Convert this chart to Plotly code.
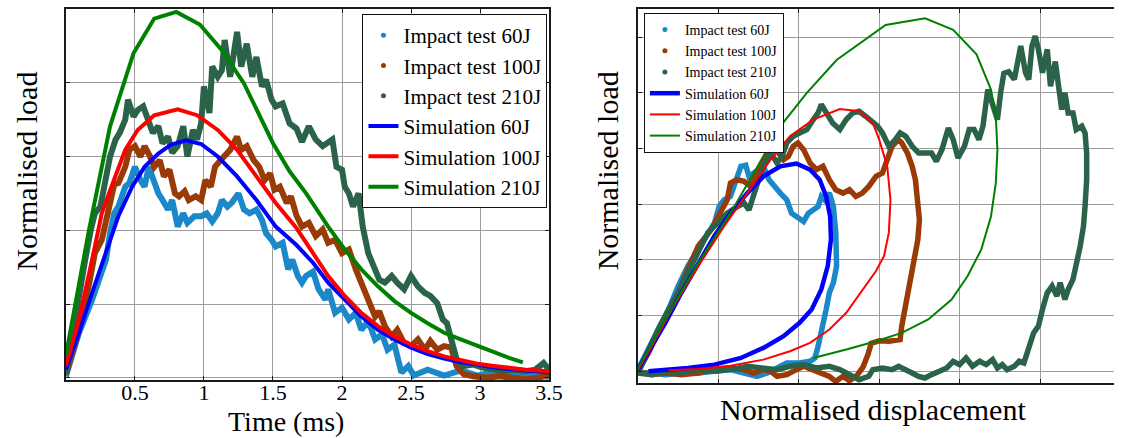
import plotly.graph_objects as go

FONT = "Liberation Serif, Times New Roman, serif"

# ---------------- Left panel: Normalised load vs Time (ms) ----------------
time_ticks = [0.5, 1, 1.5, 2, 2.5, 3, 3.5]
time_tick_labels = ["0.5", "1", "1.5", "2", "2.5", "3", "3.5"]
load_ticks_left = [0, 1, 2, 3, 4, 5]

test60_time = [(0, 0.02), (0.095, 0.61), (0.19, 1.06), (0.24, 1.33), (0.29, 1.60), (0.32, 1.96), (0.35, 2.23),
               (0.38, 2.32), (0.43, 2.59), (0.46, 2.64), (0.50, 2.86), (0.54, 2.68), (0.57, 2.59), (0.60, 2.86),
               (0.63, 2.68), (0.67, 2.50), (0.70, 2.41), (0.74, 2.28), (0.77, 2.41), (0.81, 2.05), (0.85, 2.23),
               (0.88, 2.10), (0.93, 2.19), (0.98, 2.19), (1.02, 2.23), (1.06, 2.12), (1.10, 2.23), (1.13, 2.41),
               (1.17, 2.32), (1.20, 2.37), (1.25, 2.50), (1.29, 2.28), (1.33, 2.23), (1.38, 2.28), (1.42, 2.14),
               (1.45, 1.96), (1.49, 1.87), (1.52, 1.78), (1.57, 1.83), (1.61, 1.47), (1.64, 1.60), (1.68, 1.38),
               (1.71, 1.29), (1.74, 1.38), (1.79, 1.44), (1.83, 1.20), (1.88, 1.06), (1.90, 1.20), (1.95, 0.88),
               (2.00, 0.95), (2.05, 0.79), (2.10, 0.88), (2.14, 0.65), (2.19, 0.77), (2.24, 0.52), (2.29, 0.59),
               (2.33, 0.38), (2.38, 0.45), (2.43, 0.07), (2.48, 0.16), (2.52, 0.03), (2.62, 0.11), (2.74, 0.03),
               (2.86, 0.10), (2.98, 0.03), (3.10, 0.08), (3.21, 0.02), (3.33, 0.06), (3.50, 0.01)]

test100_time = [(0, 0.05), (0.095, 0.65), (0.17, 1.29), (0.21, 1.69), (0.26, 1.87), (0.31, 2.32), (0.35, 2.62),
                (0.38, 2.64), (0.43, 2.86), (0.46, 3.09), (0.50, 3.14), (0.54, 3.00), (0.57, 3.14), (0.61, 3.00),
                (0.64, 2.86), (0.68, 2.95), (0.71, 2.73), (0.75, 2.82), (0.79, 2.50), (0.82, 2.46), (0.86, 2.53),
                (0.89, 2.41), (0.94, 2.46), (0.98, 2.41), (1.01, 2.68), (1.05, 2.59), (1.08, 2.86), (1.12, 2.95),
                (1.15, 3.00), (1.19, 3.09), (1.24, 3.27), (1.27, 3.09), (1.31, 3.14), (1.36, 2.95), (1.40, 2.86),
                (1.44, 2.68), (1.48, 2.77), (1.51, 2.55), (1.55, 2.59), (1.60, 2.37), (1.63, 2.46), (1.67, 2.20),
                (1.71, 2.05), (1.76, 2.10), (1.81, 1.92), (1.86, 2.01), (1.90, 1.83), (1.95, 1.87), (2.00, 1.69),
                (2.05, 1.74), (2.10, 1.47), (2.14, 1.29), (2.17, 1.15), (2.20, 0.97), (2.24, 0.83), (2.27, 0.90),
                (2.31, 0.70), (2.36, 0.56), (2.40, 0.65), (2.45, 0.47), (2.50, 0.43), (2.55, 0.52), (2.60, 0.38),
                (2.64, 0.50), (2.69, 0.38), (2.74, 0.43), (2.79, 0.41), (2.83, 0.16), (2.88, 0.05), (2.95, 0.02),
                (3.05, 0.00), (3.14, 0.02), (3.24, 0.00), (3.33, -0.02), (3.43, 0.00), (3.50, 0.05)]

test210_time = [(0, 0.05), (0.07, 0.88), (0.14, 1.60), (0.18, 2.00), (0.21, 2.23), (0.25, 2.32), (0.29, 2.73),
                (0.32, 3.00), (0.36, 3.23), (0.39, 3.32), (0.43, 3.50), (0.45, 3.77), (0.49, 3.54), (0.52, 3.63),
                (0.56, 3.68), (0.60, 3.50), (0.63, 3.32), (0.67, 3.41), (0.70, 3.18), (0.74, 3.27), (0.77, 3.05),
                (0.81, 3.14), (0.85, 3.41), (0.88, 3.00), (0.92, 3.36), (0.95, 3.23), (0.98, 3.45), (1.00, 3.95),
                (1.04, 3.59), (1.06, 4.22), (1.10, 4.08), (1.13, 4.17), (1.15, 4.58), (1.19, 4.08), (1.24, 4.69),
                (1.27, 4.22), (1.31, 4.53), (1.35, 4.08), (1.38, 4.35), (1.42, 3.95), (1.45, 4.04), (1.49, 3.77),
                (1.52, 3.68), (1.57, 3.72), (1.62, 3.45), (1.67, 3.38), (1.71, 3.20), (1.76, 3.41), (1.81, 3.23),
                (1.86, 3.14), (1.90, 3.18), (1.93, 3.23), (1.96, 2.86), (2.00, 2.82), (2.02, 2.59), (2.05, 2.50),
                (2.08, 2.32), (2.12, 2.50), (2.15, 2.05), (2.19, 1.69), (2.23, 1.51), (2.27, 1.33), (2.31, 1.29),
                (2.36, 1.38), (2.40, 1.29), (2.45, 1.20), (2.50, 1.38), (2.55, 1.24), (2.60, 1.15), (2.64, 1.11),
                (2.69, 1.01), (2.73, 0.79), (2.76, 0.74), (2.80, 0.43), (2.83, 0.25), (2.88, 0.16), (2.95, 0.18),
                (3.02, 0.14), (3.10, 0.11), (3.17, 0.09), (3.24, 0.11), (3.33, 0.09), (3.40, 0.11), (3.46, 0.20),
                (3.50, 0.11)]

sim60_time = [(0, 0.11), (0.095, 0.61), (0.19, 1.15), (0.29, 1.69), (0.38, 2.19), (0.48, 2.59), (0.57, 2.86),
              (0.67, 3.04), (0.76, 3.16), (0.87, 3.22), (0.98, 3.17), (1.10, 3.00), (1.24, 2.73), (1.38, 2.41),
              (1.52, 2.05), (1.67, 1.80), (1.79, 1.56), (1.90, 1.29), (2.02, 1.06), (2.14, 0.83), (2.26, 0.65),
              (2.38, 0.52), (2.50, 0.41), (2.62, 0.32), (2.74, 0.26), (2.86, 0.21), (2.98, 0.18), (3.10, 0.14),
              (3.21, 0.12), (3.33, 0.10), (3.50, 0.07)]

sim100_time = [(0, 0.16), (0.095, 0.79), (0.19, 1.60), (0.26, 2.23), (0.33, 2.59), (0.43, 3.09), (0.52, 3.36),
               (0.64, 3.56), (0.81, 3.64), (0.95, 3.56), (1.10, 3.36), (1.24, 3.09), (1.38, 2.73), (1.52, 2.37),
               (1.67, 2.03), (1.79, 1.69), (1.90, 1.38), (2.02, 1.11), (2.14, 0.88), (2.26, 0.70), (2.38, 0.56),
               (2.50, 0.45), (2.62, 0.36), (2.74, 0.29), (2.86, 0.24), (2.98, 0.19), (3.10, 0.16), (3.21, 0.13),
               (3.33, 0.11), (3.50, 0.09)]

sim210_time = [(0, 0.30), (0.167, 2.00), (0.32, 3.41), (0.49, 4.40), (0.64, 4.87), (0.80, 4.96), (0.97, 4.79),
               (1.13, 4.44), (1.29, 3.99), (1.38, 3.63), (1.50, 3.18), (1.62, 2.80), (1.74, 2.50), (1.90, 2.05),
               (2.02, 1.74), (2.14, 1.47), (2.26, 1.24), (2.38, 1.04), (2.50, 0.88), (2.62, 0.74), (2.74, 0.61),
               (2.86, 0.52), (2.98, 0.43), (3.10, 0.34), (3.21, 0.27), (3.31, 0.21)]

# ---------------- Right panel: Normalised load vs Normalised displacement ----------------
disp_ticks = [0, 1, 2, 3, 4, 5]
load_ticks_right = [0, 1, 2, 3, 4, 5, 6]

test60_disp = [(0, 0.03), (0.13, 0.39), (0.25, 0.75), (0.38, 1.11), (0.50, 1.53), (0.62, 1.89), (0.75, 2.19),
               (0.87, 2.49), (0.95, 2.66), (1.01, 2.96), (1.07, 3.08), (1.15, 3.14), (1.22, 3.44), (1.28, 3.68),
               (1.34, 3.70), (1.38, 3.50), (1.44, 3.56), (1.50, 3.62), (1.56, 3.68), (1.63, 3.44), (1.69, 3.32),
               (1.77, 3.20), (1.85, 3.08), (1.91, 2.84), (1.97, 2.78), (2.06, 2.69), (2.12, 2.84), (2.18, 2.90),
               (2.24, 2.96), (2.28, 3.14), (2.32, 3.08), (2.38, 3.20), (2.43, 2.96), (2.46, 2.49), (2.47, 1.89),
               (2.43, 1.59), (2.38, 1.41), (2.34, 1.11), (2.30, 0.81), (2.24, 0.45), (2.20, 0.24), (2.14, 0.18),
               (2.01, 0.15), (1.85, 0.15), (1.73, 0.06), (1.61, -0.03), (1.48, -0.09), (1.32, -0.03), (1.15, 0.03),
               (0.95, 0.00), (0.75, -0.03), (0.54, -0.03), (0.34, -0.06), (0.17, -0.03), (0, -0.02)]

test100_disp = [(0, 0.00), (0.13, 0.33), (0.25, 0.69), (0.38, 1.05), (0.50, 1.41), (0.62, 1.83), (0.75, 2.25),
                (0.91, 2.54), (1.03, 2.84), (1.11, 3.08), (1.15, 3.38), (1.23, 3.44), (1.32, 3.41), (1.40, 3.32),
                (1.48, 3.56), (1.56, 3.80), (1.63, 3.98), (1.69, 4.04), (1.75, 3.92), (1.81, 3.80), (1.87, 3.86),
                (1.93, 4.04), (1.99, 4.10), (2.06, 3.98), (2.14, 3.74), (2.22, 3.62), (2.30, 3.68), (2.38, 3.44),
                (2.46, 3.26), (2.55, 3.20), (2.63, 3.26), (2.71, 3.14), (2.79, 3.20), (2.87, 3.32), (2.96, 3.50),
                (3.04, 3.56), (3.10, 3.80), (3.16, 4.04), (3.24, 4.16), (3.28, 4.10), (3.35, 3.92), (3.41, 3.68),
                (3.45, 3.44), (3.48, 3.08), (3.50, 2.72), (3.48, 2.36), (3.44, 2.06), (3.40, 1.71), (3.36, 1.35),
                (3.32, 1.05), (3.28, 0.81), (3.26, 0.57), (3.12, 0.54), (3.00, 0.55), (2.90, 0.50), (2.86, 0.30),
                (2.80, 0.08), (2.72, -0.08), (2.63, -0.17), (2.55, -0.09), (2.46, -0.18), (2.38, -0.09),
                (2.26, -0.03), (2.14, 0.03), (2.06, 0.09), (1.97, 0.03), (1.85, -0.06), (1.73, -0.09), (1.65, 0.00),
                (1.56, 0.03), (1.44, -0.03), (1.32, 0.03), (1.15, 0.06), (0.95, 0.03), (0.75, -0.03), (0.54, -0.06),
                (0.34, -0.03), (0.17, -0.06), (0, 0.00)]

test210_disp = [(0, -0.03), (0.13, 0.39), (0.25, 0.75), (0.38, 1.11), (0.50, 1.41), (0.62, 1.77), (0.75, 2.13),
                (0.87, 2.49), (0.99, 2.66), (1.11, 2.84), (1.24, 2.96), (1.32, 3.02), (1.38, 2.90), (1.44, 3.20),
                (1.50, 3.44), (1.56, 3.68), (1.65, 3.92), (1.73, 3.74), (1.79, 3.86), (1.85, 4.10), (1.93, 4.22),
                (2.01, 4.28), (2.10, 4.34), (2.18, 4.52), (2.24, 4.64), (2.28, 4.79), (2.34, 4.64), (2.42, 4.46),
                (2.51, 4.34), (2.59, 4.52), (2.67, 4.64), (2.75, 4.67), (2.83, 4.58), (2.91, 4.50), (2.98, 4.40),
                (3.04, 4.28), (3.12, 4.04), (3.20, 4.16), (3.26, 4.28), (3.33, 4.22), (3.41, 4.04), (3.49, 3.92),
                (3.57, 3.92), (3.65, 3.92), (3.71, 3.77), (3.78, 3.98), (3.86, 4.37), (3.92, 4.16), (3.98, 3.83),
                (4.06, 4.04), (4.12, 4.34), (4.18, 4.34), (4.24, 4.16), (4.29, 4.40), (4.35, 5.06), (4.41, 4.82),
                (4.47, 4.52), (4.51, 5.00), (4.55, 5.35), (4.61, 5.38), (4.68, 5.24), (4.72, 5.54), (4.76, 5.84),
                (4.82, 5.36), (4.86, 5.24), (4.90, 5.84), (4.94, 6.02), (4.98, 5.78), (5.03, 5.36), (5.09, 5.78),
                (5.13, 5.12), (5.19, 5.56), (5.23, 5.12), (5.27, 4.70), (5.31, 5.00), (5.35, 4.64), (5.41, 4.64),
                (5.45, 4.34), (5.52, 4.40), (5.56, 4.28), (5.58, 3.92), (5.58, 3.44), (5.56, 2.96), (5.54, 2.60),
                (5.50, 2.25), (5.45, 1.89), (5.41, 1.65), (5.35, 1.47), (5.31, 1.29), (5.25, 1.59), (5.21, 1.35),
                (5.15, 1.53), (5.09, 1.41), (5.03, 1.11), (4.98, 0.81), (4.92, 0.69), (4.88, 0.51), (4.84, 0.33),
                (4.80, 0.15), (4.74, 0.18), (4.68, 0.09), (4.59, 0.03), (4.53, 0.12), (4.47, 0.06), (4.41, 0.21),
                (4.33, 0.12), (4.25, 0.18), (4.16, 0.09), (4.08, 0.24), (4.00, 0.12), (3.92, 0.18), (3.84, 0.06),
                (3.73, 0.00), (3.65, -0.06), (3.57, -0.12), (3.49, -0.09), (3.41, -0.03), (3.33, 0.03), (3.24, 0.09),
                (3.16, 0.03), (3.04, 0.06), (2.92, 0.03), (2.87, -0.09), (2.75, -0.15), (2.63, -0.06), (2.51, 0.03),
                (2.38, 0.09), (2.22, 0.06), (2.06, 0.12), (1.89, 0.09), (1.73, 0.03), (1.56, 0.06), (1.36, 0.09),
                (1.15, 0.03), (0.95, 0.00), (0.75, 0.03), (0.54, -0.03), (0.34, 0.00), (0.17, -0.06), (0, -0.03)]

sim60_disp = [(0, 0.03), (0.17, 0.45), (0.34, 0.87), (0.54, 1.41), (0.75, 1.95), (0.95, 2.43), (1.15, 2.84),
              (1.36, 3.20), (1.56, 3.50), (1.77, 3.68), (1.97, 3.73), (2.14, 3.62), (2.26, 3.44), (2.34, 3.14),
              (2.39, 2.78), (2.40, 2.37), (2.36, 1.89), (2.28, 1.47), (2.16, 1.11), (2.01, 0.87), (1.81, 0.63),
              (1.56, 0.42), (1.28, 0.24), (0.95, 0.12), (0.62, 0.06), (0.34, 0.03), (0.13, 0.00)]

sim100_disp = [(0, 0.03), (0.17, 0.45), (0.42, 1.11), (0.75, 1.89), (1.07, 2.60), (1.36, 3.20), (1.65, 3.80),
               (1.89, 4.22), (2.18, 4.52), (2.51, 4.71), (2.75, 4.67), (2.92, 4.46), (3.00, 4.16), (3.10, 3.68),
               (3.14, 3.08), (3.12, 2.49), (3.06, 2.07), (2.96, 1.80), (2.80, 1.47), (2.59, 1.05), (2.38, 0.75),
               (2.14, 0.51), (1.89, 0.36), (1.56, 0.21), (1.15, 0.10), (0.75, 0.04), (0.38, 0.02)]

sim210_disp = [(0, 0.05), (0.34, 0.93), (0.75, 1.95), (1.15, 2.84), (1.56, 3.86), (1.77, 4.40), (2.10, 5.00),
               (2.47, 5.59), (3.08, 6.22), (3.57, 6.34), (3.92, 6.13), (4.21, 5.69), (4.39, 5.06), (4.45, 4.58),
               (4.47, 3.98), (4.45, 3.38), (4.39, 2.78), (4.27, 2.19), (4.10, 1.71), (3.90, 1.29), (3.61, 0.93),
               (3.28, 0.69), (2.96, 0.54), (2.59, 0.39), (2.18, 0.24)]

names_test = ["Impact test 60J", "Impact test 100J", "Impact test 210J"]
names_sim = ["Simulation 60J", "Simulation 100J", "Simulation 210J"]
col_test = ["#1a88c9", "#9a3a06", "#2b634a"]
col_sim = ["#0000ff", "#ff0000", "#008000"]

fig = go.Figure()


def xy(pairs):
    return [p[0] for p in pairs], [p[1] for p in pairs]


def panel(tests, sims, xa, ya, legend, test_w, sim_w, dot):
    # legend-only dot entries for the test series
    for n, c in zip(names_test, col_test):
        fig.add_trace(go.Scatter(x=[None], y=[None], mode="markers", name=n, legendgroup=legend + n,
                                 marker=dict(color=c, size=dot), xaxis=xa, yaxis=ya, legend=legend))
    for pairs, n, c in zip(tests, names_test, col_test):
        x, y = xy(pairs)
        fig.add_trace(go.Scatter(x=x, y=y, mode="lines", name=n, legendgroup=legend + n, showlegend=False,
                                 line=dict(color=c, width=test_w), xaxis=xa, yaxis=ya, legend=legend))
    for pairs, n, c, w in zip(sims, names_sim, col_sim, sim_w):
        x, y = xy(pairs)
        fig.add_trace(go.Scatter(x=x, y=y, mode="lines", name=n, line=dict(color=c, width=w),
                                 xaxis=xa, yaxis=ya, legend=legend))


panel([test60_time, test100_time, test210_time], [sim60_time, sim100_time, sim210_time],
      "x", "y", "legend", 6, [4, 4, 4], 5)
panel([test60_disp, test100_disp, test210_disp], [sim60_disp, sim100_disp, sim210_disp],
      "x2", "y2", "legend2", 5.5, [4.5, 2, 2], 5)

W, H = 1128, 438
GRID = "#9c9c9c"
LINE = "#1a1a1a"

axis_common = dict(showgrid=True, gridcolor=GRID, gridwidth=1, zeroline=False, showline=True,
                   linecolor=LINE, linewidth=2, ticks="inside", ticklen=4, tickcolor=LINE,
                   tickfont=dict(family=FONT, size=22, color="black"))

fig.update_layout(
    width=W, height=H,
    margin=dict(l=0, r=0, t=0, b=0),
    paper_bgcolor="white", plot_bgcolor="white",
    showlegend=True,
    xaxis=dict(domain=[66.7 / W, 556 / W], range=[0, 3.5], tickvals=time_ticks, ticktext=time_tick_labels,
               mirror="all", anchor="y", ticklabelstandoff=-8, **axis_common),
    yaxis=dict(domain=[(H - 380) / H, (H - 9) / H], range=[-0.03, 5], tickvals=load_ticks_left,
               showticklabels=False, mirror="all", anchor="x", **axis_common),
    xaxis2=dict(domain=[646 / W, 1.0], range=[0, 5.92], tickvals=disp_ticks, showticklabels=False,
                mirror="all", anchor="y2", **axis_common),
    yaxis2=dict(domain=[(H - 383) / H, (H - 9.3) / H], range=[-0.21, 6.5], tickvals=load_ticks_right,
                showticklabels=False, mirror=False, anchor="x2", **axis_common),
    legend=dict(x=367 / W, y=1 - 14 / H, xanchor="left", yanchor="top", bgcolor="white",
                bordercolor="#111111", borderwidth=1, tracegroupgap=0,
                font=dict(family=FONT, size=21, color="black")),
    legend2=dict(x=652 / W, y=1 - 13 / H, xanchor="left", yanchor="top", bgcolor="white",
                 bordercolor="#111111", borderwidth=1, tracegroupgap=0,
                 font=dict(family=FONT, size=14, color="black")),
    annotations=[
        dict(text="Normalised load", x=26 / W, y=1 - 171 / H, xref="paper", yref="paper", textangle=-90,
             showarrow=False, xanchor="center", yanchor="middle", font=dict(family=FONT, size=30, color="black")),
        dict(text="Time (ms)", x=290 / W, y=1 - 421 / H, xref="paper", yref="paper",
             showarrow=False, xanchor="center", yanchor="middle", font=dict(family=FONT, size=28, color="black")),
        dict(text="Normalised load", x=615 / W, y=1 - 171 / H, xref="paper", yref="paper", textangle=-90,
             showarrow=False, xanchor="center", yanchor="middle", font=dict(family=FONT, size=30, color="black")),
        dict(text="Normalised displacement", x=884 / W, y=1 - 409 / H, xref="paper", yref="paper",
             showarrow=False, xanchor="center", yanchor="middle", font=dict(family=FONT, size=30, color="black")),
    ],
)

fig.write_html("out.html")
